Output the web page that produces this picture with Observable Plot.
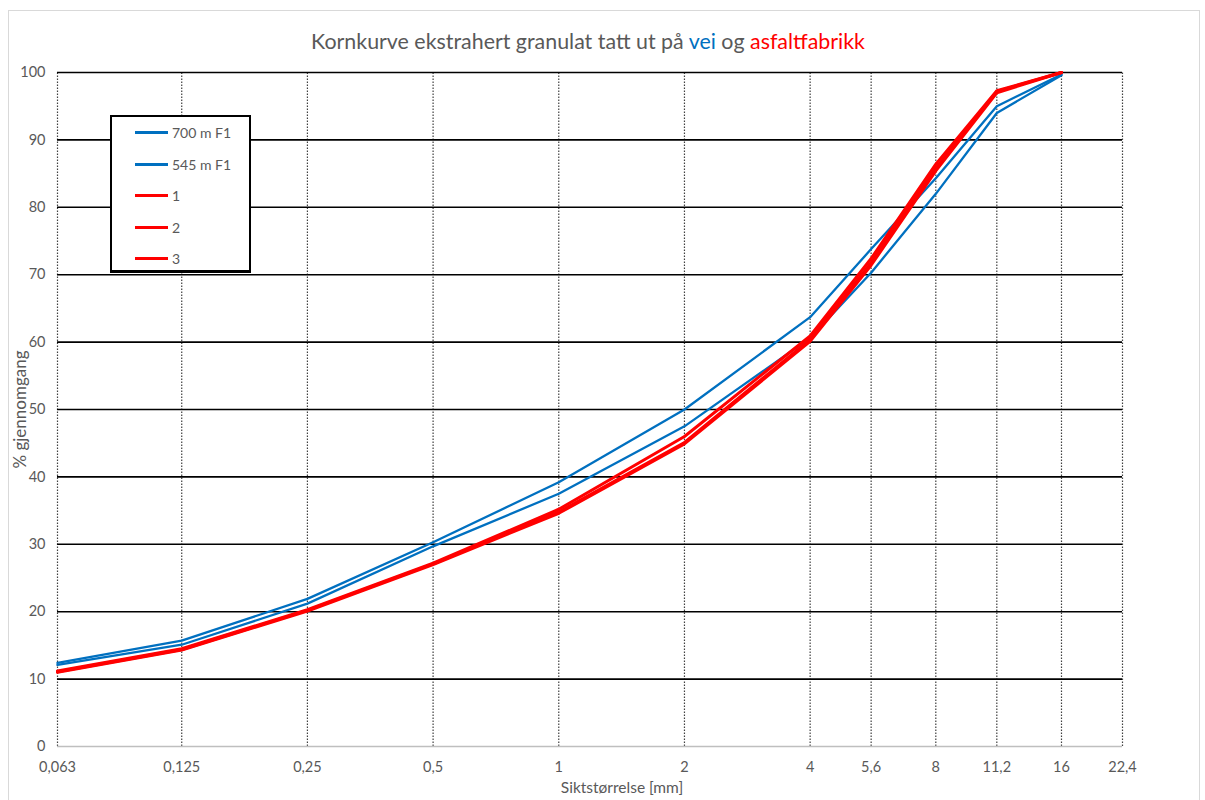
<!DOCTYPE html>
<html>
<head>
<meta charset="utf-8">
<script src="https://cdn.jsdelivr.net/npm/d3@7"></script>
<script src="https://cdn.jsdelivr.net/npm/@observablehq/plot@0.6"></script>
<style>
  html, body { margin: 0; padding: 0; background: #fff; }
  body { width: 1205px; height: 800px; position: relative; overflow: hidden; font-family: Lato, "Open Sans", sans-serif; }
  #frame { position: absolute; left: 8px; top: 10px; width: 1192px; height: 800px; border: 1px solid #d9d9d9; box-sizing: border-box; }
  #title { position: absolute; left: 0; width: 1176px; top: 28px; text-align: center; font-size: 21.4px; color: #595959; }
  #title .vei { color: #0070c0; }
  #title .asf { color: #ff0000; }
  #chart { position: absolute; left: 0; top: 60px; }
  #legend { position: absolute; left: 110px; top: 115px; width: 141px; height: 158px; box-sizing: border-box; border: 2px solid #000; border-bottom-width: 3px; background: #fff; }
  .item { position: absolute; left: 23px; height: 16px; font-size: 14px; color: #595959; display: flex; align-items: center; }
  .item .sw { width: 33px; height: 3px; margin-right: 4px; }
</style>
</head>
<body>
<div id="frame"></div>
<div id="title">Kornkurve ekstrahert granulat tatt ut på <span class="vei">vei</span> og <span class="asf">asfaltfabrikk</span></div>
<div id="chart"></div>
<div id="legend"></div>
<script>
// Sieve sizes (mm) and percent passing for each sample
const sieves = [0.063, 0.125, 0.25, 0.5, 1, 2, 4, 5.6, 8, 11.2, 16];
const xTicks = [0.063, 0.125, 0.25, 0.5, 1, 2, 4, 5.6, 8, 11.2, 16, 22.4];
const yTicks = [0, 10, 20, 30, 40, 50, 60, 70, 80, 90, 100];

const seriesNames = ["700 m F1", "545 m F1", "1", "2", "3"];
const seriesColors = ["#0070c0", "#0070c0", "#ff0000", "#ff0000", "#ff0000"];
const seriesWidths = [2.3, 2.3, 3, 3, 3];

const pass700 = [12.4, 15.7, 21.9, 30.3, 39.2, 50.0, 63.7, 73.8, 84.3, 95.0, 99.7];
const pass545 = [12.1, 15.1, 21.2, 29.7, 37.5, 47.5, 60.6, 70.3, 82.0, 94.0, 99.6];
const pass1 = [11.2, 14.5, 20.3, 27.2, 35.2, 46.0, 60.9, 72.4, 86.4, 97.3, 100];
const pass2 = [11.1, 14.4, 20.2, 27.1, 34.8, 45.1, 60.4, 71.8, 85.8, 97.2, 100];
const pass3 = [11.0, 14.3, 20.1, 27.0, 34.6, 44.9, 60.1, 71.4, 85.4, 97.0, 100];
const seriesValues = [pass700, pass545, pass1, pass2, pass3];

const rows = seriesValues.flatMap((vals, i) =>
  vals.map((v, j) => ({ series: seriesNames[i], size: sieves[j], pass: v }))
);

const fmt = d => String(d).replace(".", ",");
const font = "Lato, 'Open Sans', sans-serif";

const chart = Plot.plot({
  width: 1205,
  height: 740,
  marginLeft: 57,
  marginRight: 83,
  marginTop: 12,
  marginBottom: 54,
  style: { fontFamily: font, fontSize: "14.5px", color: "#595959", background: "transparent" },
  x: { type: "log", domain: [0.063, 22.4], axis: null },
  y: { domain: [0, 100], axis: null },
  marks: [
    Plot.ruleX(xTicks, { stroke: "#404040", strokeWidth: 1.2, strokeDasharray: "1.5,1.5", y1: 0, y2: 100 }),
    Plot.ruleY(yTicks.filter(d => d > 0), { stroke: "#000", strokeWidth: 1.6 }),
    Plot.ruleY([0], { stroke: "#bfbfbf", strokeWidth: 1.3 }),
    ...seriesNames.map((name, i) =>
      Plot.line(rows.filter(r => r.series === name), {
        x: "size", y: "pass", stroke: seriesColors[i], strokeWidth: seriesWidths[i], strokeLinejoin: "miter"
      })
    ),
    // Tick labels
    Plot.text(xTicks, { x: d => d, frameAnchor: "bottom", dy: 25, text: fmt, fontSize: 14.5, fill: "#595959" }),
    Plot.text(yTicks, { y: d => d, frameAnchor: "left", dx: -12, textAnchor: "end", text: d => String(d), fontSize: 14.5, fill: "#595959" }),
    // Axis titles
    Plot.text(["Siktstørrelse [mm]"], { frameAnchor: "bottom", dx: 32, dy: 46, fontSize: 15.5, fill: "#595959" }),
    Plot.text(["% gjennomgang"], { frameAnchor: "left", dx: -37, rotate: -90, textAnchor: "middle", fontSize: 17, fill: "#595959" })
  ]
});
document.getElementById("chart").appendChild(chart);

// Legend entries
const legend = d3.select("#legend");
const legendTops = [7, 39, 70, 102, 133];
seriesNames.forEach((name, i) => {
  const it = legend.append("div").attr("class", "item").style("top", legendTops[i] + "px");
  it.append("div").attr("class", "sw").style("background", seriesColors[i]);
  it.append("span").text(name);
});
</script>
</body>
</html>
